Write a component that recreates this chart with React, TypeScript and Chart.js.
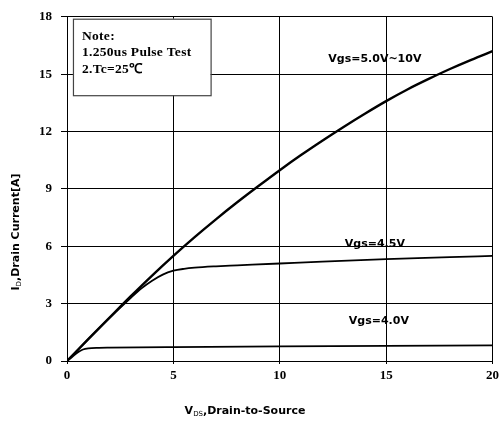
import React, { useEffect, useRef } from "react";
import { Chart, registerables } from "chart.js";

Chart.register(...registerables);

// Vgs = 5.0V ~ 10V
const vdsHigh = [0, 1, 2, 3, 4, 5, 6, 7, 8, 9, 10, 11, 12, 13, 14, 15, 16, 17, 18, 19, 20];
const idHigh = [0, 1.14, 2.27, 3.39, 4.47, 5.5, 6.48, 7.41, 8.3, 9.15, 9.98, 10.77, 11.52, 12.24, 12.93, 13.59, 14.2, 14.75, 15.27, 15.75, 16.2];
// Vgs = 4.5V
const vdsMid = [0, 1, 2, 3, 3.5, 4, 4.5, 5, 5.5, 6, 7, 8, 10, 12, 15, 18, 20];
const idMid = [0, 1.14, 2.25, 3.3, 3.8, 4.2, 4.52, 4.72, 4.82, 4.88, 4.95, 5.0, 5.1, 5.2, 5.33, 5.43, 5.5];
// Vgs = 4.0V
const vdsLow = [0, 0.25, 0.5, 0.75, 1, 1.5, 2, 5, 10, 15, 20];
const idLow = [0, 0.22, 0.45, 0.6, 0.66, 0.69, 0.7, 0.73, 0.76, 0.79, 0.82];

const curveLabels = ["Vgs=5.0V~10V", "Vgs=4.5V", "Vgs=4.0V"];
const noteLines = ["Note:", "1.250us Pulse Test", "2.Tc=25\u2103"];

const toPts = (xs: number[], ys: number[]) => xs.map((x, i) => ({ x, y: ys[i] }));

const overlay = {
  id: "overlay",
  afterDraw(chart: any) {
    const ctx = chart.ctx as CanvasRenderingContext2D;
    const xs = chart.scales.x;
    const ys = chart.scales.y;
    ctx.save();
    // Note box
    const bx = xs.getPixelForValue(0.28);
    const by = ys.getPixelForValue(17.9);
    const bx2 = xs.getPixelForValue(6.75);
    const by2 = ys.getPixelForValue(13.9);
    ctx.fillStyle = "#fff";
    ctx.fillRect(bx, by, bx2 - bx, by2 - by);
    ctx.strokeStyle = "#444";
    ctx.lineWidth = 1.2;
    ctx.strokeRect(bx + 0.5, by + 0.5, bx2 - bx, by2 - by);
    ctx.fillStyle = "#000";
    ctx.font = "bold 13.5px 'Liberation Serif'";
    (ctx as any).letterSpacing = "0.3px";
    ctx.textAlign = "left";
    ctx.textBaseline = "middle";
    const ly = [37, 53, 70];
    noteLines.forEach((t, i) => ctx.fillText(t, bx + 9, ly[i]));
    (ctx as any).letterSpacing = "0px";

    // curve labels
    ctx.font = "bold 11px 'DejaVu Sans'";
    ctx.textAlign = "center";
    const lx = [xs.getPixelForValue(14.47), xs.getPixelForValue(14.47), xs.getPixelForValue(14.66)];
    const lyy = [ys.getPixelForValue(15.77), ys.getPixelForValue(6.1), ys.getPixelForValue(2.1)];
    curveLabels.forEach((t, i) => ctx.fillText(t, lx[i], lyy[i]));

    // axis titles with subscripts
    const drawSub = (main: string, sub: string, rest: string, cx: number, cy: number) => {
      ctx.font = "bold 11px 'DejaVu Sans'";
      const w1 = ctx.measureText(main).width;
      const w3 = ctx.measureText(rest).width;
      ctx.font = "7px 'DejaVu Sans'";
      const w2 = ctx.measureText(sub).width;
      const total = w1 + w2 + w3;
      const x0 = cx - total / 2;
      ctx.textAlign = "left";
      ctx.textBaseline = "alphabetic";
      ctx.font = "bold 11px 'DejaVu Sans'";
      ctx.fillText(main, x0, cy + 4);
      ctx.font = "7px 'DejaVu Sans'";
      ctx.fillText(sub, x0 + w1, cy + 6);
      ctx.font = "bold 11px 'DejaVu Sans'";
      ctx.fillText(rest, x0 + w1 + w2, cy + 4);
    };
    drawSub("V", "DS", ",Drain-to-Source", 245, 410);
    ctx.save();
    ctx.translate(15, 232);
    ctx.rotate(-Math.PI / 2);
    drawSub("I", "D", ",Drain Current[A]", 0, 0);
    ctx.restore();
    ctx.restore();
  },
};

export default function App() {
  const ref = useRef<HTMLCanvasElement>(null);
  useEffect(() => {
    if (!ref.current) return;
    const common = { showLine: true, pointRadius: 0, borderColor: "#000", cubicInterpolationMode: "monotone" as const, fill: false };
    const chart = new Chart(ref.current, {
      type: "scatter",
      data: {
        datasets: [
          { ...common, label: curveLabels[0], data: toPts(vdsHigh, idHigh), borderWidth: 2.4 },
          { ...common, label: curveLabels[1], data: toPts(vdsMid, idMid), borderWidth: 1.8 },
          { ...common, label: curveLabels[2], data: toPts(vdsLow, idLow), borderWidth: 1.8 },
        ],
      },
      options: {
        responsive: false,
        animation: false,
        layout: { padding: { top: 13, right: 9, left: 0, bottom: 0 } },
        plugins: { legend: { display: false }, tooltip: { enabled: false } },
        scales: {
          x: {
            type: "linear",
            min: 0,
            max: 20,
            afterFit: (s: any) => { s.height = 65; },
            ticks: { stepSize: 5, color: "#000", padding: 4, font: { family: "'Liberation Serif'", weight: "bold", size: 13 } },
            grid: { color: "#000", lineWidth: 1, tickLength: 3, tickColor: "#000" },
            border: { color: "#000", width: 1 },
          },
          y: {
            min: 0,
            max: 18,
            afterFit: (s: any) => { s.width = 67; },
            ticks: { stepSize: 3, color: "#000", padding: 9, font: { family: "'Liberation Serif'", weight: "bold", size: 13 } },
            grid: { color: "#000", lineWidth: 1, tickLength: 6, tickColor: "#000" },
            border: { color: "#000", width: 1 },
          },
        },
      },
      plugins: [overlay],
    });
    return () => chart.destroy();
  }, []);
  return (
    <div style={{ position: "absolute", left: 0, top: 0, width: 503, height: 426, background: "#fff" }}>
      <canvas ref={ref} width={503} height={426} />
    </div>
  );
}
